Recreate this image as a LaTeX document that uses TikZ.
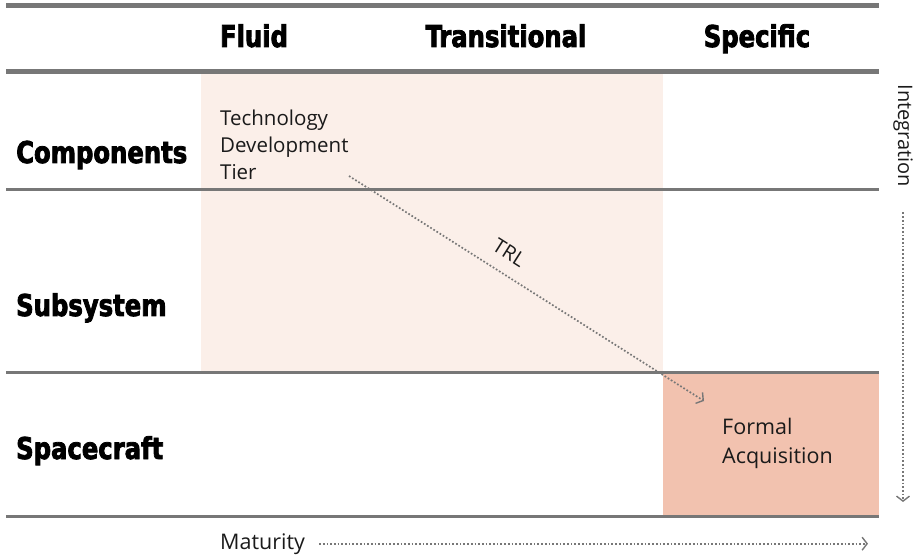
\documentclass[tikz,border=0pt]{standalone}
\usepackage{fontspec}
\setmainfont{Open Sans}
\newfontfamily\headfont{DejaVu Sans Condensed}[BoldFeatures={FakeBold=2.6, FakeStretch=0.9}]
\usetikzlibrary{arrows.meta}

\definecolor{rulegray}{HTML}{777777}
\definecolor{palepink}{HTML}{FBEFE9}
\definecolor{salmon}{HTML}{F2C2AF}
\definecolor{ink}{HTML}{1A1A1A}

\tikzset{
	colhead/.style={anchor=base, inner sep=0pt, text=black, font=\headfont\bfseries\fontsize{30}{32}\selectfont},
	rowhead/.style={anchor=base west, inner sep=0pt, text=black, font=\headfont\bfseries\fontsize{30}{32}\selectfont},
	body/.style={anchor=north west, align=left, inner sep=0pt, text=ink},
	thick rule/.style={rulegray, line width=5pt},
	thin rule/.style={rulegray, line width=3pt},
	flow/.style={rulegray, line width=1.7pt, dotted, -{Straight Barb[length=5pt, width=13pt, line width=1.4pt]}},
}

\begin{document}
\begin{tikzpicture}[x=1pt, y=-1pt]
	\useasboundingbox (0, 0) rectangle (914, 556);

	\fill[palepink] (201, 74) rectangle (663, 373);
	\fill[salmon] (663, 373) rectangle (879, 516);

	\draw[thick rule] (6, 6) -- (879, 6);
	\draw[thick rule] (6, 72) -- (879, 72);
	\foreach \y in {190, 373, 516}
		\draw[thin rule] (6, \y) -- (879, \y);

	\node[colhead] (fluid) at (254, 47) {Fluid};
	\node[colhead] (transitional) at (506, 47) {Transitional};
	\node[colhead] (specific) at (757, 47) {Specific};

	\node[rowhead] (components) at (16, 163) {Components};
	\node[rowhead] (subsystem) at (16, 316) {Subsystem};
	\node[rowhead] (spacecraft) at (16, 459) {Spacecraft};

	\node[body, font=\fontsize{20.5}{27}\selectfont] (tier) at (220, 110) {Technology\\Development\\Tier};
	\node[body, font=\fontsize{21.5}{29}\selectfont] (acquisition) at (722, 418) {Formal\\Acquisition};

	\coordinate (trl start) at (349, 176);
	\coordinate (trl end) at (704, 401);
	\draw[flow] (trl start) -- (trl end)
		node[pos=0.42, sloped, above=13pt, inner sep=0pt, text=ink, font=\fontsize{20}{22}\selectfont] (trl) {TRL};

	\node[anchor=base west, inner sep=0pt, text=ink, font=\fontsize{21.5}{24}\selectfont] (maturity) at (220, 549) {Maturity};
	\coordinate (maturity end) at (868, 543);
	\draw[flow] ([xshift=14pt]maturity.east) -- (maturity.east -| maturity end);

	\node[rotate=-90, inner sep=0pt, text=ink, font=\fontsize{20}{22}\selectfont] (integration) at (903, 136) {Integration};
	\coordinate (integration end) at (908, 502);
	\draw[flow] ([yshift=-25pt]integration.east) -- (integration.east |- integration end);
\end{tikzpicture}
\end{document}
